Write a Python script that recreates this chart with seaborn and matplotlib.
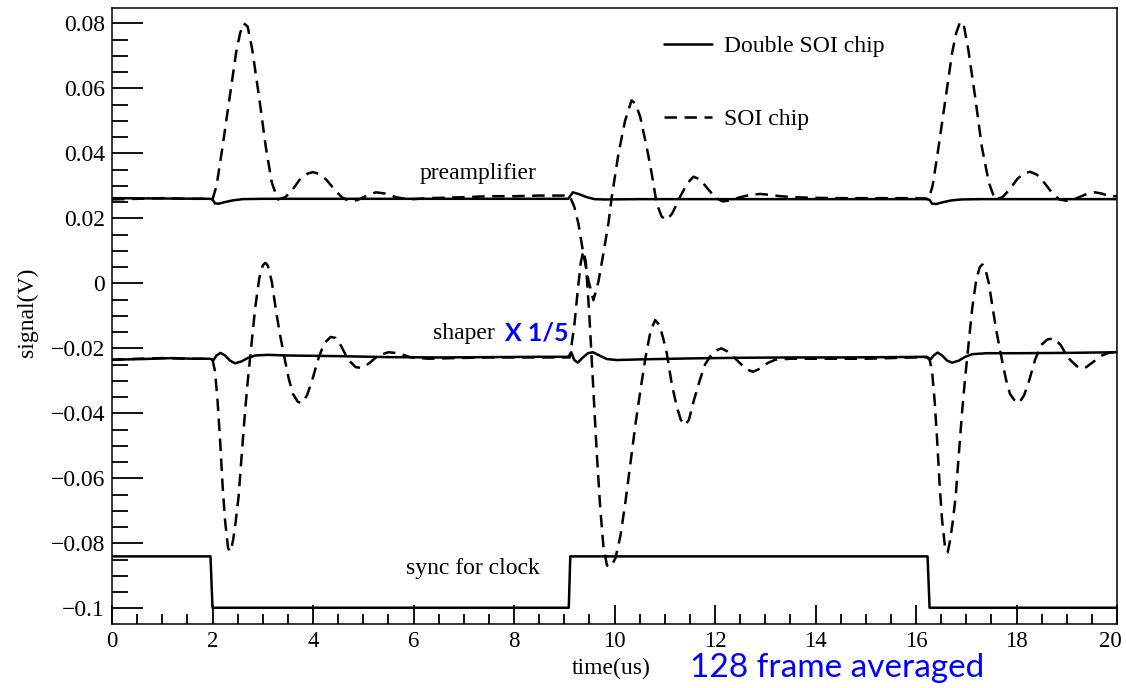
import matplotlib
matplotlib.use("Agg")
import matplotlib.pyplot as plt
import matplotlib.transforms as mtransforms
from matplotlib.lines import Line2D
from matplotlib.ticker import MultipleLocator, FuncFormatter
import pandas as pd
import seaborn as sns

# ---------------- data (time in us, signal in V) ----------------
# SOI chip, preamplifier output
soi_pre_t = [0, 0.5, 1.0, 1.5, 1.95, 2.0, 2.08, 2.19, 2.33, 2.47, 2.55, 2.62, 2.7,
             2.79, 2.93, 3.06, 3.18, 3.3, 3.45, 3.6, 3.75, 3.9, 4.0, 4.12, 4.27,
             4.42, 4.57, 4.72, 4.88, 5.05, 5.25, 5.45, 5.65, 5.9, 6.3, 7.0, 7.5,
             8.0, 8.5, 9.0, 9.11, 9.2, 9.28, 9.38, 9.48, 9.58, 9.68, 9.78, 9.88,
             9.94, 10.08, 10.21, 10.34, 10.42, 10.51, 10.64, 10.74, 10.84, 10.94,
             11.04, 11.15, 11.3, 11.45, 11.57, 11.7, 11.85, 12.0, 12.15, 12.3,
             12.5, 12.7, 12.9, 13.1, 13.3, 13.6, 14.0, 14.5, 15.0, 15.5, 16.0,
             16.2, 16.25, 16.33, 16.44, 16.58, 16.72, 16.8, 16.88, 16.95, 17.04,
             17.18, 17.31, 17.45, 17.57, 17.72, 17.87, 18.02, 18.15, 18.27, 18.4,
             18.55, 18.7, 18.85, 19.0, 19.2, 19.4, 19.56, 19.7, 19.85, 20.0]
soi_pre_v = [0.0258, 0.0260, 0.0262, 0.0260, 0.0260, 0.0258, 0.030, 0.041, 0.056,
             0.071, 0.077, 0.0800, 0.0790, 0.072, 0.057, 0.042, 0.031, 0.0258,
             0.0265, 0.029, 0.0322, 0.0338, 0.0342, 0.0337, 0.0318, 0.0290,
             0.0265, 0.0253, 0.0256, 0.0268, 0.0280, 0.0276, 0.0265, 0.0258,
             0.0262, 0.0265, 0.0268, 0.0268, 0.0270, 0.0270, 0.0268, 0.0235,
             0.0185, 0.0092, 0.0010, -0.0052, 0.0005, 0.0093, 0.0185, 0.0260,
             0.0400, 0.0500, 0.0563, 0.0552, 0.0513, 0.0420, 0.0338, 0.0245,
             0.0205, 0.0195, 0.0215, 0.0265, 0.0308, 0.0328, 0.0320, 0.0292,
             0.0265, 0.0252, 0.0255, 0.0265, 0.0272, 0.0275, 0.0272, 0.0268,
             0.0265, 0.0263, 0.0262, 0.0262, 0.0262, 0.0262, 0.0261, 0.0258,
             0.030, 0.041, 0.056, 0.071, 0.077, 0.0805, 0.0795, 0.072, 0.057,
             0.042, 0.031, 0.0258, 0.0265, 0.029, 0.0322, 0.0338, 0.0343, 0.0335,
             0.031, 0.028, 0.0258, 0.0254, 0.0262, 0.0275, 0.0280, 0.0276,
             0.0268, 0.0268]

# SOI chip, shaper output (x 1/5)
soi_shp_t = [0, 0.5, 1.0, 1.5, 1.95, 2.0, 2.05, 2.1, 2.15, 2.2, 2.25, 2.31, 2.36,
             2.41, 2.46, 2.52, 2.58, 2.65, 2.71, 2.78, 2.85, 2.93, 3.0, 3.05, 3.1,
             3.18, 3.26, 3.34, 3.44, 3.52, 3.6, 3.7, 3.78, 3.88, 3.98, 4.1, 4.22,
             4.35, 4.45, 4.55, 4.7, 4.85, 4.97, 5.1, 5.3, 5.5, 5.7, 5.95, 6.3,
             6.8, 7.5, 8.0, 8.5, 9.0, 9.11, 9.2, 9.27, 9.33, 9.38, 9.43, 9.5,
             9.58, 9.65, 9.72, 9.78, 9.85, 9.93, 10.02, 10.12, 10.22, 10.32,
             10.42, 10.52, 10.62, 10.72, 10.81, 10.9, 10.97, 11.04, 11.14, 11.24,
             11.32, 11.40, 11.48, 11.58, 11.7, 11.8, 11.9, 12.0, 12.13, 12.25,
             12.38, 12.5, 12.63, 12.76, 12.9, 13.05, 13.2, 13.5, 14.0, 14.5, 15.0,
             15.5, 16.0, 16.22, 16.27, 16.32, 16.37, 16.42, 16.47, 16.52, 16.58,
             16.63, 16.68, 16.73, 16.79, 16.85, 16.92, 16.98, 17.05, 17.12, 17.2,
             17.27, 17.32, 17.37, 17.45, 17.53, 17.61, 17.71, 17.79, 17.87, 17.97,
             18.05, 18.15, 18.25, 18.37, 18.49, 18.62, 18.75, 18.88, 19.02, 19.2,
             19.35, 19.5, 19.7, 19.85, 20.0]
soi_shp_v = [-0.0235, -0.0232, -0.0230, -0.0232, -0.0232, -0.0235, -0.027, -0.036,
             -0.048, -0.062, -0.073, -0.0815, -0.0825, -0.079, -0.0735, -0.0655,
             -0.053, -0.039, -0.0287, -0.018, -0.0075, 0.0015, 0.0055, 0.0063,
             0.0055, 0.0005, -0.008, -0.0155, -0.0235, -0.0295, -0.034, -0.0365,
             -0.0368, -0.0345, -0.030, -0.0235, -0.0185, -0.0165, -0.0168, -0.019,
             -0.0235, -0.0258, -0.0260, -0.0248, -0.0222, -0.0212, -0.0215,
             -0.0228, -0.0232, -0.0230, -0.0228, -0.0228, -0.0228, -0.0228,
             -0.0228, -0.013, -0.002, 0.0065, 0.0100, 0.0065, -0.010, -0.033,
             -0.053, -0.070, -0.081, -0.0868, -0.0872, -0.0845, -0.0775, -0.067,
             -0.055, -0.043, -0.0325, -0.0225, -0.0145, -0.0113, -0.0130, -0.017,
             -0.0215, -0.031, -0.038, -0.042, -0.0436, -0.042, -0.036, -0.0297,
             -0.025, -0.0226, -0.0208, -0.0200, -0.0210, -0.0228, -0.0246,
             -0.0265, -0.0272, -0.0262, -0.0245, -0.0235, -0.0232, -0.0232,
             -0.0232, -0.0232, -0.0230, -0.0228, -0.0228, -0.0235, -0.027, -0.036,
             -0.048, -0.062, -0.073, -0.0815, -0.0828, -0.079, -0.0735, -0.0655,
             -0.053, -0.039, -0.0287, -0.018, -0.0075, 0.0012, 0.0050, 0.0058,
             0.0050, 0.0000, -0.008, -0.0155, -0.0235, -0.0295, -0.034, -0.0362,
             -0.0368, -0.0345, -0.030, -0.0235, -0.0190, -0.0172, -0.0170,
             -0.0190, -0.0228, -0.0255, -0.0262, -0.0245, -0.0222, -0.0213,
             -0.0212]

# Double SOI chip, preamplifier output
dsoi_pre_t = [0, 1.0, 1.95, 2.0, 2.05, 2.12, 2.25, 2.4, 2.6, 3.0, 4.0, 6.0, 8.0,
              9.08, 9.17, 9.3, 9.45, 9.6, 9.8, 10.5, 12.0, 14.0, 16.2, 16.27,
              16.32, 16.4, 16.55, 16.7, 16.9, 17.3, 18.5, 20.0]
dsoi_pre_v = [0.0262, 0.0261, 0.0260, 0.0258, 0.0246, 0.0245, 0.0250, 0.0255,
              0.0259, 0.0260, 0.0260, 0.0260, 0.0260, 0.0260, 0.0280, 0.0274,
              0.0265, 0.0259, 0.0258, 0.0259, 0.0259, 0.0259, 0.0259, 0.0257,
              0.0245, 0.0244, 0.0250, 0.0255, 0.0258, 0.0259, 0.0259, 0.0259]

# Double SOI chip, shaper output (x 1/5)
dsoi_shp_t = [0, 0.6, 1.2, 1.6, 1.95, 2.02, 2.08, 2.16, 2.25, 2.35, 2.45, 2.58,
              2.71, 2.85, 3.1, 3.5, 4.5, 5.5, 6.5, 7.5, 8.5, 9.08, 9.14, 9.2, 9.27,
              9.37, 9.47, 9.57, 9.7, 9.85, 10.05, 10.5, 11.5, 12.5, 13.5, 14.5,
              15.5, 16.22, 16.29, 16.35, 16.43, 16.52, 16.62, 16.72, 16.85, 16.98,
              17.12, 17.4, 18.0, 19.0, 20.0]
dsoi_shp_v = [-0.0235, -0.0233, -0.0230, -0.0232, -0.0232, -0.0236, -0.0222,
              -0.0214, -0.0222, -0.0238, -0.0246, -0.0240, -0.0229, -0.0222,
              -0.0220, -0.0222, -0.0224, -0.0227, -0.0228, -0.0227, -0.0226,
              -0.0226, -0.0212, -0.0236, -0.0244, -0.0228, -0.0215, -0.0212,
              -0.0222, -0.0233, -0.0236, -0.0234, -0.0231, -0.0229, -0.0228,
              -0.0228, -0.0227, -0.0226, -0.0234, -0.0222, -0.0213, -0.0222,
              -0.0238, -0.0244, -0.0238, -0.0226, -0.0218, -0.0215, -0.0215,
              -0.0214, -0.0212]

# Clock synchronisation signal
sync_t = [0, 1.96, 2.0, 9.09, 9.12, 16.23, 16.27, 20.0]
sync_v = [-0.0840, -0.0840, -0.0998, -0.0998, -0.0840, -0.0840, -0.0998, -0.0998]

chip_labels = ["Double SOI chip", "SOI chip"]
x_ticks = [0, 2, 4, 6, 8, 10, 12, 14, 16, 18, 20]
y_ticks = [0.08, 0.06, 0.04, 0.02, 0, -0.02, -0.04, -0.06, -0.08, -0.1]

# ---------------- style ----------------
sns.set_theme(style="white")
SERIF = ["Liberation Serif", "DejaVu Serif"]
plt.rcParams["font.family"] = SERIF
plt.rcParams["axes.unicode_minus"] = True
plt.rcParams["text.color"] = "black"
plt.rcParams["axes.labelcolor"] = "black"
plt.rcParams["xtick.color"] = "black"
plt.rcParams["ytick.color"] = "black"

fig = plt.figure(figsize=(11.26, 6.88), dpi=100)
ax = fig.add_axes([112 / 1126, 1 - 624 / 688, 1005 / 1126, 616 / 688])

LW = 1.8
DASH = (5, 3)

def frame(t, v, name):
    return pd.DataFrame({"time": t, "signal": v, "trace": name})

traces = [
    (frame(soi_pre_t, soi_pre_v, "soi_pre"), DASH),
    (frame(soi_shp_t, soi_shp_v, "soi_shp"), DASH),
    (frame(dsoi_pre_t, dsoi_pre_v, "dsoi_pre"), None),
    (frame(dsoi_shp_t, dsoi_shp_v, "dsoi_shp"), None),
    (frame(sync_t, sync_v, "sync"), None),
]
for df, dash in traces:
    sns.lineplot(data=df, x="time", y="signal", ax=ax, color="black", lw=LW,
                 estimator=None, sort=False, legend=False)
    if dash is not None:
        ax.lines[-1].set_dashes(dash)

# ---------------- axes ----------------
ax.set_xlim(0, 20)
ax.set_ylim(-0.1048, 0.0847)
ax.set_xticks(x_ticks)
ax.set_yticks(y_ticks)
ax.xaxis.set_minor_locator(MultipleLocator(0.5))
ax.yaxis.set_minor_locator(MultipleLocator(0.005))

def yfmt(v, pos):
    s = "%g" % round(v, 4)
    return s.replace("-", "\u2212")

ax.yaxis.set_major_formatter(FuncFormatter(yfmt))
ax.xaxis.set_major_formatter(FuncFormatter(lambda v, p: "%g" % v))

ax.tick_params(axis="both", which="both", direction="in", colors="black",
               left=True, bottom=True, top=False, right=False)
ax.tick_params(axis="y", which="major", length=22, width=1.3, pad=5,
               labelsize=17)
ax.tick_params(axis="y", which="minor", length=11.5, width=1.3)
ax.tick_params(axis="x", which="major", length=14, width=1.3, pad=5,
               labelsize=16.5)
ax.tick_params(axis="x", which="minor", length=7.5, width=1.3)
for sp in ax.spines.values():
    sp.set_visible(True)
    sp.set_color("black")
    sp.set_linewidth(1.1)
ax.grid(False)

# keep the last x tick label inside the figure edge
last_tick = ax.xaxis.get_major_ticks()[-1]
shift = mtransforms.ScaledTranslation(-5 / 72, 0, fig.dpi_scale_trans)
last_tick.label1.set_transform(last_tick.label1.get_transform() + shift)

ax.set_xlabel("time(us)", fontsize=17, va="center")
ax.xaxis.set_label_coords(0.497, -0.0714)
ax.set_ylabel("signal(V)", fontsize=17, va="center", ha="center")
ax.yaxis.set_label_coords(-0.0846, 0.506)

# ---------------- legend ----------------
handles = [Line2D([], [], color="black", lw=LW),
           Line2D([], [], color="black", lw=LW, dashes=DASH)]
ax.legend(handles, chip_labels, loc="upper left", bbox_to_anchor=(0.549, 0.955),
          frameon=False, fontsize=17, handlelength=2.03, handletextpad=0.51,
          labelspacing=2.16, borderpad=0, borderaxespad=0)

# ---------------- annotations ----------------
ax.text(7.28, 0.0339, "preamplifier", fontsize=17, ha="center", va="center")
ax.text(7.0, -0.0153, "shaper", fontsize=17, ha="center", va="center")
ax.text(7.82, -0.0153, "X 1/5", fontsize=18, ha="left", va="center",
        color="#0000ff", fontweight="bold", family=["Lato", "DejaVu Sans"])
ax.text(7.19, -0.0876, "sync for clock", fontsize=17, ha="center", va="center")

fig.text(690 / 1126, 1 - 668 / 688, "128 frame averaged", fontsize=24,
         color="#0000ff", ha="left", va="center", family=["Lato", "DejaVu Sans"])

fig.savefig("out.png", dpi=100, facecolor="white")
